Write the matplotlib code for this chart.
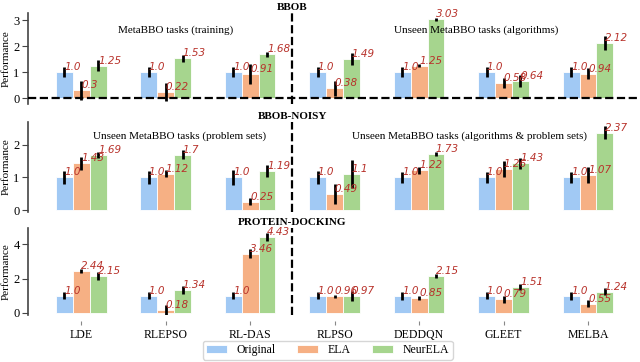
import matplotlib
matplotlib.use("Agg")
import matplotlib.pyplot as plt
import matplotlib.transforms as mtransforms
import numpy as np

plt.rcParams["font.family"] = "serif"
plt.rcParams["font.serif"] = ["Liberation Serif", "DejaVu Serif"]

algorithms = ["LDE", "RLEPSO", "RL-DAS", "RLPSO", "DEDDQN", "GLEET", "MELBA"]
methods = ["Original", "ELA", "NeurELA"]
colors = ["#a1c9f4", "#f6b084", "#a6d58e"]

# BBOB
bbob_original = [1.0, 1.0, 1.0, 1.0, 1.0, 1.0, 1.0]
bbob_ela = [0.3, 0.22, 0.91, 0.38, 1.25, 0.58, 0.94]
bbob_neurela = [1.25, 1.53, 1.68, 1.49, 3.03, 0.64, 2.12]
bbob_original_err = [0.19, 0.19, 0.19, 0.19, 0.19, 0.19, 0.19]
bbob_ela_err = [0.37, 0.35, 0.38, 0.29, 0.05, 0.2, 0.2]
bbob_neurela_err = [0.23, 0.13, 0.1, 0.23, 0.05, 0.23, 0.28]

# BBOB-NOISY
noisy_original = [1.0, 1.0, 1.0, 1.0, 1.0, 1.0, 1.0]
noisy_ela = [1.43, 1.12, 0.25, 0.49, 1.22, 1.26, 1.07]
noisy_neurela = [1.69, 1.7, 1.19, 1.1, 1.73, 1.43, 2.37]
noisy_original_err = [0.21, 0.2, 0.23, 0.2, 0.16, 0.16, 0.16]
noisy_ela_err = [0.2, 0.1, 0.11, 0.3, 0.1, 0.25, 0.25]
noisy_neurela_err = [0.08, 0.13, 0.19, 0.43, 0.06, 0.17, 0.2]

# PROTEIN-DOCKING
docking_original = [1.0, 1.0, 1.0, 1.0, 1.0, 1.0, 1.0]
docking_ela = [2.44, 0.18, 3.46, 0.96, 0.85, 0.79, 0.55]
docking_neurela = [2.15, 1.34, 4.43, 0.97, 2.15, 1.51, 1.24]
docking_original_err = [0.2, 0.2, 0.2, 0.2, 0.22, 0.2, 0.22]
docking_ela_err = [0.14, 0.28, 0.27, 0.07, 0.12, 0.2, 0.18]
docking_neurela_err = [0.25, 0.22, 0.22, 0.3, 0.12, 0.2, 0.2]

panels = [
    ("BBOB", [bbob_original, bbob_ela, bbob_neurela],
     [bbob_original_err, bbob_ela_err, bbob_neurela_err],
     (-0.23, 3.27), [0, 1, 2, 3],
     [("MetaBBO tasks (training)", 1.12, 2.6),
      ("Unseen MetaBBO tasks (algorithms)", 4.68, 2.6)]),
    ("BBOB-NOISY", [noisy_original, noisy_ela, noisy_neurela],
     [noisy_original_err, noisy_ela_err, noisy_neurela_err],
     (-0.06, 2.7), [0, 1, 2],
     [("Unseen MetaBBO tasks (problem sets)", 1.17, 2.28),
      ("Unseen MetaBBO tasks (algorithms & problem sets)", 4.6, 2.28)]),
    ("PROTEIN-DOCKING", [docking_original, docking_ela, docking_neurela],
     [docking_original_err, docking_ela_err, docking_neurela_err],
     (-0.12, 4.95), [0, 2, 4], []),
]

fig = plt.figure(figsize=(6.4, 3.62), dpi=100)
# axes boxes in pixels (top, bottom) measured from the top of the figure
boxes = [(13, 104), (122, 212), (228, 315)]
left, right = 28 / 640, 0.998

x = np.arange(len(algorithms))
width = 0.2
offsets = [-width, 0.0, width]

for i, (title, values, errors, ylim, yticks, notes) in enumerate(panels):
    top_px, bot_px = boxes[i]
    ax = fig.add_axes([left, 1 - bot_px / 362, right - left, (bot_px - top_px) / 362])
    for j, method in enumerate(methods):
        ax.bar(x + offsets[j], values[j], width, color=colors[j], label=method,
               edgecolor="white", linewidth=0.6, zorder=2)
        ax.errorbar(x + offsets[j], values[j], yerr=errors[j], fmt="none",
                    ecolor="black", elinewidth=2, capsize=0, zorder=3)
        for xi, v in zip(x + offsets[j], values[j]):
            ax.text(xi, v, str(v), ha="left", va="bottom", fontsize=7.5,
                    family="DejaVu Sans", style="italic", color="#b8322b", zorder=4)
    ax.axvline(2.5, color="black", linestyle="--", linewidth=1.6, zorder=1)
    if i == 0:
        ax.axhline(0, color="black", linestyle="--", linewidth=1.6, zorder=5)
    ax.set_xlim(-0.63, 6.6)
    ax.set_ylim(*ylim)
    ax.set_yticks(yticks)
    ax.set_ylabel("Performance", fontsize=8, labelpad=2)
    ax.tick_params(axis="y", labelsize=9, length=4, pad=2, color="#444444")
    for side in ["top", "right", "bottom"]:
        ax.spines[side].set_visible(False)
    ax.spines["left"].set_color("#444444")
    ax.spines["left"].set_linewidth(1.2)
    if i == len(panels) - 1:
        ax.spines["bottom"].set_position(("outward", 4))
        ax.set_xticks(x)
        ax.set_xticklabels(algorithms, fontsize=8.5)
        ax.tick_params(axis="x", length=3, width=0.8, color="#888888", pad=3)
    else:
        ax.set_xticks([])
    trans = mtransforms.blended_transform_factory(ax.transData, ax.transAxes)
    ax.text(2.5, 1.01, title, transform=trans, ha="center", va="bottom",
            fontsize=8, fontweight="bold")
    for text, tx, ty in notes:
        ax.text(tx, ty, text, ha="center", va="center", fontsize=8)

handles, labels = ax.get_legend_handles_labels()
fig.legend(handles, labels, loc="lower center", bbox_to_anchor=(0.512, -0.01),
           ncol=3, fontsize=8.5, handlelength=1.8, columnspacing=1.8,
           handletextpad=0.8, frameon=True, edgecolor="#cccccc", borderpad=0.3)

fig.savefig("out.png", dpi=100)
